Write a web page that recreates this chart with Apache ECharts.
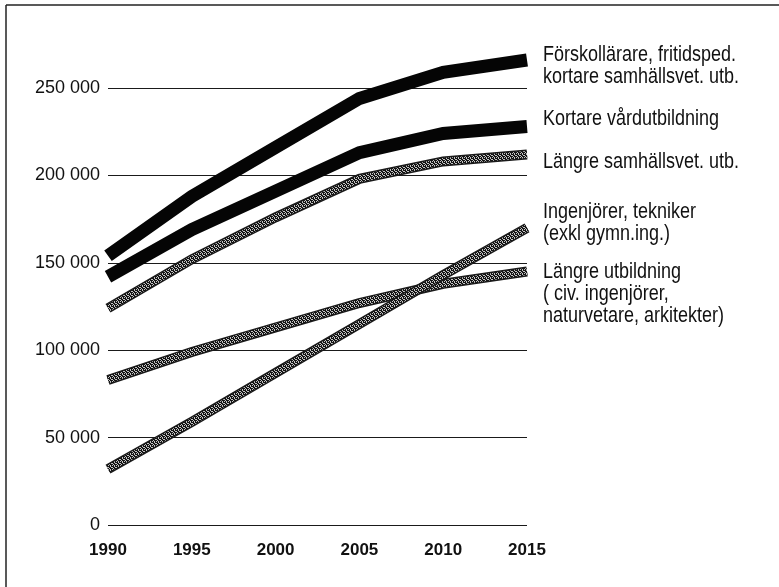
<!DOCTYPE html>
<html>
<head>
<meta charset="utf-8">
<script src="https://cdn.jsdelivr.net/npm/echarts@6/dist/echarts.min.js"></script>
<style>
html,body{margin:0;padding:0;background:#fff;}
#chart{width:779px;height:587px;}
</style>
</head>
<body>
<div id="chart"></div>
<script>
// ---- data ----
var years = ['1990', '1995', '2000', '2005', '2010', '2015'];
var yTicks = [0, 50000, 100000, 150000, 200000, 250000];
var forskollarare = [154000, 188000, 216000, 244000, 259000, 266000];
var vardutbildning = [142000, 169000, 191000, 213000, 224000, 228000];
var samhallsvet = [124000, 152000, 176000, 198000, 208000, 212000];
var ingenjorer = [32000, 59000, 87000, 115000, 143000, 170000];
var langreUtb = [83000, 99000, 113000, 127000, 138000, 145000];

var labelLines = [
  ['Förskollärare, fritidsped.', 'kortare samhällsvet. utb.'],
  ['Kortare vårdutbildning'],
  ['Längre samhällsvet. utb.'],
  ['Ingenjörer, tekniker', '(exkl gymn.ing.)'],
  ['Längre utbildning', '( civ. ingenjörer,', 'naturvetare, arkitekter)']
];

var chart = echarts.init(document.getElementById('chart'), null, {renderer: 'canvas'});

var baseFont = '"Liberation Sans", Arial, Helvetica, sans-serif';
var baselines = [62.5, 126, 169, 219.5, 279.5];

// halftone-like texture for the grey lines (fixed dither pattern)
var pat = document.createElement('canvas');
pat.width = 4; pat.height = 4;
var pctx = pat.getContext('2d');
pctx.fillStyle = '#c4c4c4'; pctx.fillRect(0, 0, 4, 4);
pctx.fillStyle = '#141414';
[[0,0],[2,0],[3,0],[1,1],[3,1],[0,2],[1,2],[3,2],[1,3],[2,3]].forEach(function (p) { pctx.fillRect(p[0], p[1], 1, 1); });

function blackSeries(name, data) {
  return {
    name: name, type: 'line', data: data, symbol: 'none', clip: false, z: 3,
    lineStyle: {color: '#050505', width: 13, cap: 'butt', join: 'miter'}
  };
}
function graySeries(name, data, z) {
  return [{
    name: name, type: 'line', data: data, symbol: 'none', clip: false, z: z,
    lineStyle: {color: '#1a1a1a', width: 10, cap: 'butt', join: 'miter'}
  }, {
    name: name + ' (raster)', type: 'line', data: data, symbol: 'none', clip: false, z: z,
    lineStyle: {color: {image: pat, repeat: 'repeat'}, width: 7, cap: 'butt', join: 'miter'}
  }];
}

var graphics = [
  {type: 'line', shape: {x1: 6, y1: 5, x2: 779, y2: 5}, style: {stroke: '#222', lineWidth: 1.5}},
  {type: 'line', shape: {x1: 6, y1: 5, x2: 6, y2: 587}, style: {stroke: '#222', lineWidth: 1.5}}
];
labelLines.forEach(function (lines, i) {
  graphics.push({
    type: 'text', x: 543, y: baselines[i] - 18.5, scaleY: 1.22, originX: 0, originY: 0,
    style: {
      text: lines.join('\n'), font: '18px ' + baseFont, fill: '#111', lineHeight: 18,
      verticalAlign: 'top', align: 'left'
    }
  });
});

chart.setOption({
  animation: false,
  backgroundColor: '#fff',
  grid: {left: 108, right: 252, top: 88, bottom: 62},
  xAxis: {
    type: 'category', data: years, boundaryGap: false,
    axisLine: {show: false}, axisTick: {show: false},
    axisLabel: {fontFamily: baseFont, fontSize: 17, fontWeight: 'bold', color: '#111', margin: 17}
  },
  yAxis: {
    type: 'value', min: yTicks[0], max: yTicks[yTicks.length - 1], interval: 50000,
    axisLine: {show: false}, axisTick: {show: false},
    splitLine: {show: true, lineStyle: {color: '#1a1a1a', width: 1}},
    axisLabel: {
      fontFamily: baseFont, fontSize: 18, color: '#111', margin: 8,
      formatter: function (v) {
        return v === 0 ? '0' : String(v).replace(/\B(?=(\d{3})+(?!\d))/g, ' ');
      }
    }
  },
  series: [].concat(
    graySeries('Längre utbildning', langreUtb, 2),
    graySeries('Ingenjörer, tekniker', ingenjorer, 2),
    graySeries('Längre samhällsvet. utb.', samhallsvet, 2),
    [blackSeries('Kortare vårdutbildning', vardutbildning),
     blackSeries('Förskollärare, fritidsped.', forskollarare)]
  ),
  graphic: graphics
});
</script>
</body>
</html>
